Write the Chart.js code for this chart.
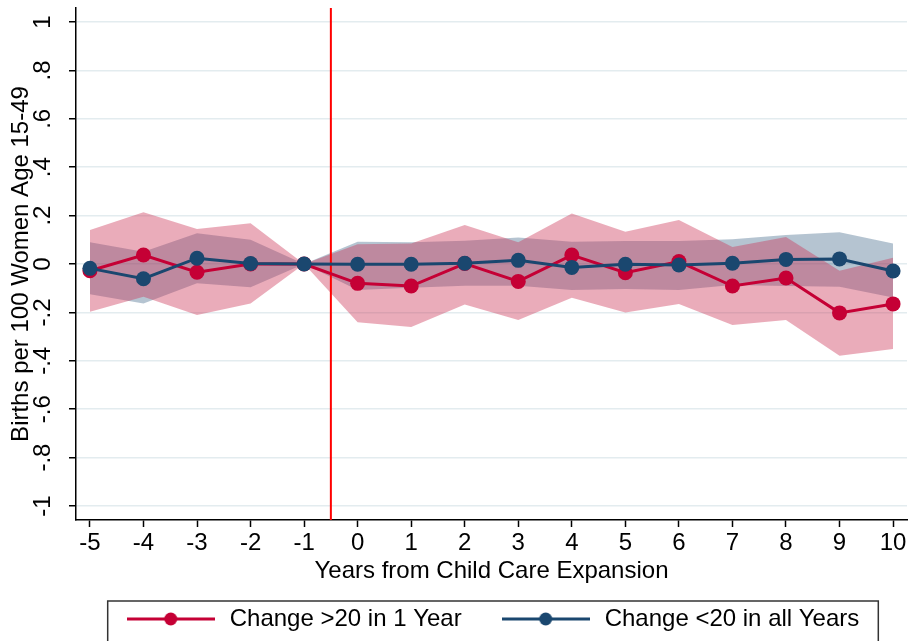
<!DOCTYPE html>
<html>
<head>
<meta charset="utf-8">
<script src="https://cdn.jsdelivr.net/npm/chart.js@4.4.0/dist/chart.umd.min.js"></script>
<style>
html, body { margin: 0; padding: 0; background: #fff; }
</style>
</head>
<body>
<canvas id="grafico" width="909" height="641"></canvas>
<script>
// Anos relativos a expansao
var anos = [-5, -4, -3, -2, -1, 0, 1, 2, 3, 4, 5, 6, 7, 8, 9, 10];

// Change >20 in 1 Year
var mudancaGrande = [-0.028, 0.037, -0.034, 0.000, 0.000, -0.080, -0.091, 0.002, -0.072, 0.037, -0.036, 0.010, -0.091, -0.058, -0.202, -0.165];
var mudancaGrandeSup = [0.140, 0.214, 0.145, 0.168, 0.000, 0.082, 0.085, 0.161, 0.090, 0.209, 0.133, 0.182, 0.070, 0.112, -0.028, 0.026];
var mudancaGrandeInf = [-0.197, -0.135, -0.211, -0.163, 0.000, -0.241, -0.260, -0.167, -0.231, -0.139, -0.200, -0.165, -0.252, -0.231, -0.379, -0.351];

// Change <20 in all Years
var mudancaPequena = [-0.018, -0.061, 0.024, 0.002, 0.000, -0.001, -0.001, 0.003, 0.015, -0.014, -0.001, -0.004, 0.003, 0.019, 0.021, -0.029];
var mudancaPequenaSup = [0.090, 0.051, 0.127, 0.100, 0.000, 0.092, 0.090, 0.096, 0.110, 0.092, 0.095, 0.095, 0.102, 0.120, 0.131, 0.085];
var mudancaPequenaInf = [-0.125, -0.163, -0.080, -0.096, 0.000, -0.107, -0.098, -0.090, -0.090, -0.107, -0.103, -0.107, -0.087, -0.091, -0.094, -0.138];

var nomesSeries = ["Change >20 in 1 Year", "Change <20 in all Years"];
var ticksY = [-1, -0.8, -0.6, -0.4, -0.2, 0, 0.2, 0.4, 0.6, 0.8, 1];
var rotulosY = ["-1", "-.8", "-.6", "-.4", "-.2", "0", ".2", ".4", ".6", ".8", "1"];
var linhaExpansao = -0.5;

var corVermelha = "#c50035";
var corAzul = "#1a476f";
var fonte = "'Liberation Sans', Arial, sans-serif";
var yMin = -1.058, yMax = 1.058;

function pontos(valores) {
    var lista = [];
    for (var i = 0; i < anos.length; i++) {
        lista.push({ x: anos[i], y: valores[i] });
    }
    return lista;
}

function iconeLegenda(cor) {
    var c = document.createElement("canvas");
    c.width = 88;
    c.height = 16;
    var g = c.getContext("2d");
    g.strokeStyle = cor;
    g.lineWidth = 3;
    g.beginPath();
    g.moveTo(0, 8);
    g.lineTo(88, 8);
    g.stroke();
    g.fillStyle = cor;
    g.beginPath();
    g.arc(44, 8, 6.5, 0, Math.PI * 2);
    g.fill();
    return c;
}

//Moldura da legenda
var caixaLegenda = {
    id: "caixaLegenda",
    afterDraw: function (chart) {
        var leg = chart.legend;
        if (!leg || !leg.legendHitBoxes || !leg.legendHitBoxes.length) return;
        var hb = leg.legendHitBoxes;
        var ult = hb[hb.length - 1];
        var esq = hb[0].left - 16;
        var dir = ult.left + ult.width + 19;
        var topo = hb[0].top - 6;
        var ctx = chart.ctx;
        ctx.save();
        ctx.strokeStyle = "#333";
        ctx.lineWidth = 1.5;
        ctx.strokeRect(esq, topo, dir - esq, chart.height - topo + 10);
        ctx.restore();
    }
};

var icones = [iconeLegenda(corVermelha), iconeLegenda(corAzul)];

var ctx = document.getElementById("grafico");
var grafico = new Chart(ctx, {
    type: "line",
    data: {
        datasets: [{
            label: nomesSeries[1],
            data: pontos(mudancaPequena),
            borderColor: corAzul,
            backgroundColor: corAzul,
            borderWidth: 3,
            pointRadius: 7.5,
            pointBorderWidth: 0,
            pointBackgroundColor: corAzul,
            fill: false
        }, {
            label: nomesSeries[0],
            data: pontos(mudancaGrande),
            borderColor: corVermelha,
            backgroundColor: corVermelha,
            borderWidth: 3,
            pointRadius: 7.5,
            pointBorderWidth: 0,
            pointBackgroundColor: corVermelha,
            fill: false
        }, {
            label: "expansao",
            data: [{ x: linhaExpansao, y: yMin }, { x: linhaExpansao, y: yMax }],
            borderColor: "#ff0000",
            borderWidth: 2,
            pointRadius: 0,
            fill: false
        }, {
            label: "sup1",
            data: pontos(mudancaGrandeSup),
            borderWidth: 0,
            pointRadius: 0,
            backgroundColor: "rgba(204,54,88,0.41)",
            fill: "+1"
        }, {
            label: "inf1",
            data: pontos(mudancaGrandeInf),
            borderWidth: 0,
            pointRadius: 0,
            fill: false
        }, {
            label: "sup2",
            data: pontos(mudancaPequenaSup),
            borderWidth: 0,
            pointRadius: 0,
            backgroundColor: "rgba(26,71,111,0.32)",
            fill: "+1"
        }, {
            label: "inf2",
            data: pontos(mudancaPequenaInf),
            borderWidth: 0,
            pointRadius: 0,
            fill: false
        }]
    },
    options: {
        responsive: false,
        animation: false,
        layout: {
            autoPadding: false,
            padding: { top: 8, right: 2, bottom: 0, left: 0 }
        },
        scales: {
            x: {
                type: "linear",
                min: -5.26,
                max: 10.26,
                afterBuildTicks: function (scale) {
                    scale.ticks = anos.map(function (v) { return { value: v }; });
                },
                afterFit: function (scale) {
                    scale.height = 50;
                    scale.paddingLeft = 0;
                    scale.paddingRight = 0;
                },
                ticks: {
                    color: "#000",
                    font: { family: fonte, size: 24 },
                    padding: 2,
                    maxRotation: 0,
                    autoSkip: false
                },
                grid: {
                    drawOnChartArea: false,
                    tickColor: "#000",
                    tickLength: 7,
                    tickWidth: 1.5
                },
                border: { color: "#000", width: 1.5 },
                title: {
                    display: true,
                    text: "Years from Child Care Expansion",
                    color: "#000",
                    font: { family: fonte, size: 24 },
                    padding: { top: 0, bottom: -16 }
                }
            },
            y: {
                min: yMin,
                max: yMax,
                afterBuildTicks: function (scale) {
                    scale.ticks = ticksY.map(function (v) { return { value: v }; });
                },
                afterFit: function (scale) {
                    scale.width = 76;
                    scale.paddingTop = 0;
                    scale.paddingBottom = 0;
                },
                ticks: {
                    color: "#000",
                    font: { family: fonte, size: 24 },
                    padding: 12,
                    crossAlign: "center",
                    minRotation: 90,
                    maxRotation: 90,
                    callback: function (valor, i) {
                        return rotulosY[i];
                    }
                },
                grid: {
                    color: "#e3ecef",
                    lineWidth: 1.5,
                    tickColor: "#000",
                    tickLength: 7,
                    tickWidth: 1.5
                },
                border: { color: "#000", width: 1.5 },
                title: {
                    display: true,
                    text: "Births per 100 Women Age 15-49",
                    color: "#000",
                    font: { family: fonte, size: 24 },
                    padding: { top: 7, bottom: 0 }
                }
            }
        },
        plugins: {
            filler: { drawTime: "beforeDatasetsDraw" },
            tooltip: { enabled: false },
            legend: {
                position: "bottom",
                fullSize: false,
                labels: {
                    color: "#000",
                    font: { family: fonte, size: 24 },
                    usePointStyle: true,
                    pointStyleWidth: 94,
                    padding: 37,
                    filter: function (item) {
                        return item.datasetIndex <= 1;
                    },
                    sort: function (a, b) {
                        return b.datasetIndex - a.datasetIndex;
                    },
                    generateLabels: function (chart) {
                        var itens = Chart.defaults.plugins.legend.labels.generateLabels(chart);
                        itens.forEach(function (it) {
                            if (it.datasetIndex === 0) it.pointStyle = icones[1];
                            if (it.datasetIndex === 1) it.pointStyle = icones[0];
                        });
                        return itens;
                    }
                }
            }
        }
    },
    plugins: [caixaLegenda]
});
</script>
</body>
</html>
